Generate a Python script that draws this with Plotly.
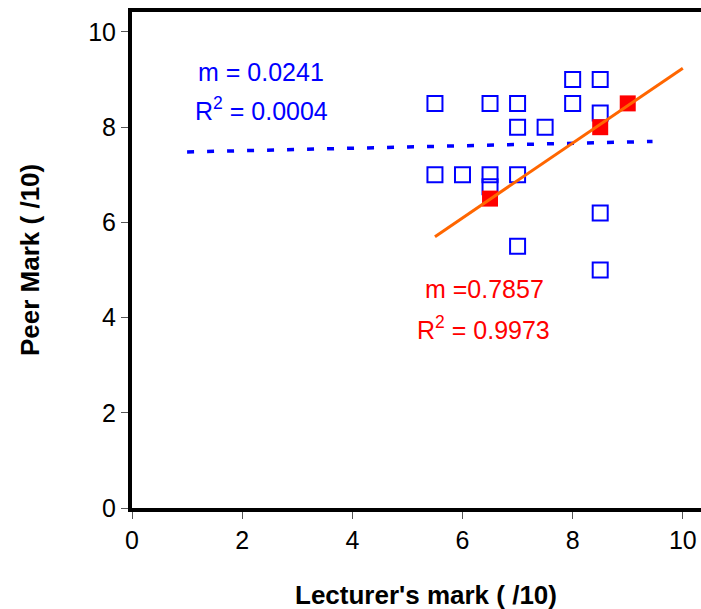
import plotly.graph_objects as go

# Blue series (open squares)
blue_x = [5.5, 5.5, 6.0, 6.5, 6.5, 6.5, 7.0, 7.0, 7.0, 7.0, 7.5, 8.0, 8.0, 8.5, 8.5, 8.5, 8.5]
blue_y = [8.5, 7.0, 7.0, 8.5, 7.0, 6.75, 8.5, 8.0, 7.0, 5.5, 8.0, 9.0, 8.5, 9.0, 8.3, 6.2, 5.0]

# Red series (filled squares)
red_x = [6.5, 8.5, 9.0]
red_y = [6.5, 8.0, 8.5]

# Trendlines (end points)
blue_trend_x = [1.0, 9.45]
blue_trend_y = [7.48, 7.70]
red_trend_x = [5.5, 10.0]
red_trend_y = [5.70, 9.24]

x_ticks = [0, 2, 4, 6, 8, 10]
y_ticks = [0, 2, 4, 6, 8, 10]

FONT = "Liberation Sans, Arial, sans-serif"

L, R, T, B = 132, 0, 12, 101
W, H = 701, 609
pw, ph = W - L - R, H - T - B

fig = go.Figure()
fig.add_trace(go.Scatter(x=blue_trend_x, y=blue_trend_y, mode="lines",
                         line=dict(color="#0000FF", width=3.5, dash="7px,13px"),
                         showlegend=False, hoverinfo="skip"))
fig.add_trace(go.Scatter(x=blue_x, y=blue_y, mode="markers",
                         marker=dict(symbol="square-open", size=15, color="#0000FF",
                                     line=dict(width=2, color="#0000FF")),
                         showlegend=False))
fig.add_trace(go.Scatter(x=red_x, y=red_y, mode="markers",
                         marker=dict(symbol="square", size=16, color="#FF0000",
                                     line=dict(width=0)),
                         showlegend=False))
fig.add_trace(go.Scatter(x=red_trend_x, y=red_trend_y, mode="lines",
                         line=dict(color="#FF6600", width=3),
                         showlegend=False, hoverinfo="skip"))

fig.update_layout(
    width=W, height=H,
    margin=dict(l=L, r=R, t=T, b=B, autoexpand=False),
    paper_bgcolor="white", plot_bgcolor="white",
    font=dict(family=FONT, size=24, color="black"),
    xaxis=dict(range=[0, 10.33], tickvals=x_ticks, ticktext=[str(v) for v in x_ticks],
               showgrid=False, zeroline=False, showline=True, linecolor="black",
               linewidth=4, mirror=True, ticks="outside", ticklen=7, tickwidth=1,
               tickcolor="#555555", tickfont=dict(size=25), automargin=False),
    yaxis=dict(range=[0, 10.42], tickvals=y_ticks, ticktext=[str(v) for v in y_ticks],
               showgrid=False, zeroline=False, showline=True, linecolor="black",
               linewidth=4, ticks="outside", ticklen=7, tickwidth=1,
               tickcolor="#555555", tickfont=dict(size=25), automargin=False),
)

annos = [
    dict(x=2.35, y=9.15, text="m = 0.0241", color="#0000FF"),
    dict(x=2.35, y=8.38, text="R<sup>2</sup> = 0.0004", color="#0000FF"),
    dict(x=6.40, y=4.60, text="m =0.7857", color="#FF0000"),
    dict(x=6.38, y=3.78, text="R<sup>2</sup> = 0.9973", color="#FF0000"),
]
for a in annos:
    fig.add_annotation(x=a["x"], y=a["y"], xref="x", yref="y", text=a["text"],
                       showarrow=False, xanchor="center", yanchor="middle",
                       font=dict(family=FONT, size=25, color=a["color"]))

fig.add_annotation(x=(426 - L) / pw, y=(H - B - 595) / ph, xref="paper", yref="paper",
                   text="<b>Lecturer's mark ( /10)</b>", xanchor="center", yanchor="middle",
                   showarrow=False, font=dict(family=FONT, size=26, color="black"))
fig.add_annotation(x=(30 - L) / pw, y=(H - B - 260) / ph, xref="paper", yref="paper",
                   text="<b>Peer Mark ( /10)</b>", xanchor="center", yanchor="middle",
                   showarrow=False, textangle=-90, font=dict(family=FONT, size=26, color="black"))

fig.write_html("out.html", config={"displayModeBar": False},
               post_script="document.body.style.margin='0';document.body.style.overflow='hidden';")
